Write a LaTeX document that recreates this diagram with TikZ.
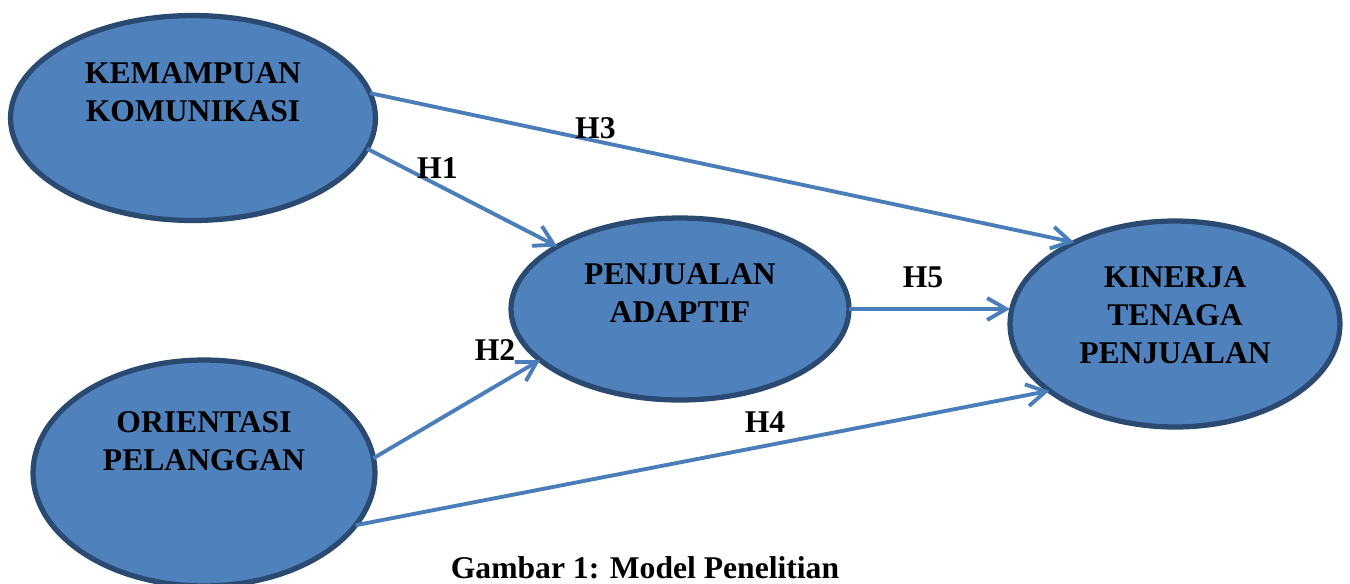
\documentclass[tikz,border=0pt]{standalone}
\usepackage{fontspec}
\setmainfont{Liberation Serif}
\usetikzlibrary{arrows.meta,shapes.geometric}
\definecolor{isi}{HTML}{4F81BD}
\definecolor{tepi}{HTML}{2A4A72}
\definecolor{panah}{HTML}{4A7EBB}

\begin{document}
\begin{tikzpicture}[x=0.02cm,y=-0.02cm,
	var/.style={ellipse,draw=tepi,fill=isi,line width=3pt,inner sep=0pt,outer sep=0pt},
	teks/.style={align=center,font=\fontsize{18}{21.5}\selectfont\bfseries},
	hub/.style={draw=panah,line width=2.2pt,-{Straight Barb[length=3.8mm,width=4.4mm]}}]
				\useasboundingbox (0,0) rectangle (1350,583);
				\node[var,minimum width=7.3cm,minimum height=4.1cm] (kk) at (193,118) {};
				\node[var,minimum width=6.84cm,minimum height=4.52cm] (op) at (204,473) {};
				\node[var,minimum width=6.76cm,minimum height=3.64cm] (pa) at (680,309) {};
				\node[var,minimum width=6.6cm,minimum height=4.12cm] (kt) at (1175,324) {};
				\node[teks] (kk-t) at (193,92.5) {KEMAMPUAN\\KOMUNIKASI};
				\node[teks] (op-t) at (204,441) {ORIENTASI\\PELANGGAN};
				\node[teks] (pa-t) at (680,293) {PENJUALAN\\ADAPTIF};
				\node[teks] (kt-t) at (1175,315) {KINERJA\\TENAGA\\PENJUALAN};
				\draw[hub] (kk.8) to node[teks,pos=0.32,yshift=0.26cm]{H3} (kt.141);
				\draw[hub] (kk.-10) to node[teks,pos=0.37,yshift=0.34cm]{H1} (pa.153);
				\draw[hub] (op.5) to node[teks,pos=0.73,yshift=0.72cm]{H2} (pa.200);
				\draw[hub] (op.-19) to node[teks,pos=0.59,yshift=0.48cm]{H4} (kt.208);
				\draw[hub] (pa.east) to node[teks,pos=0.46,yshift=0.64cm]{H5} (pa.east -| kt.west);
				\node[teks] (judul) at (645,568) {Gambar 1: Model Penelitian};
			\end{tikzpicture}
\end{document}
